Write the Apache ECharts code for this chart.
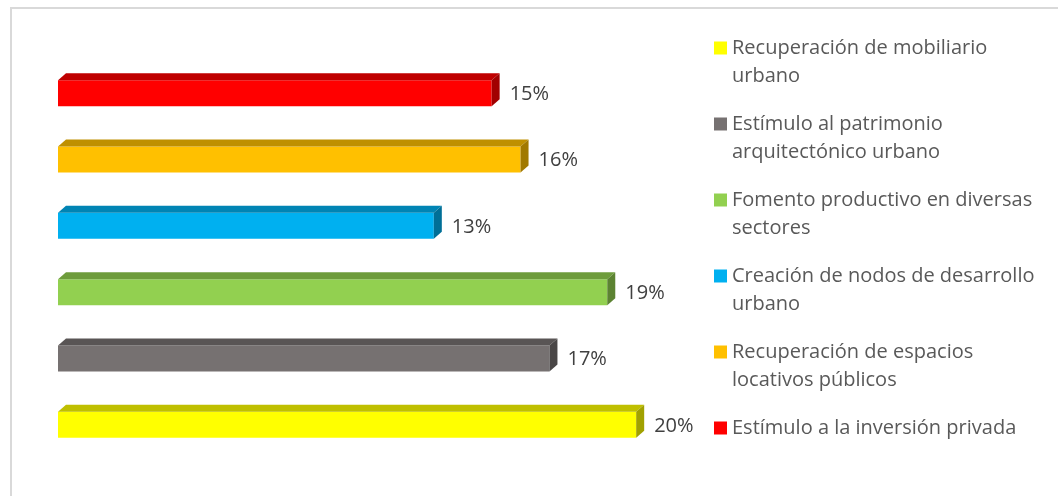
<!DOCTYPE html>
<html>
<head>
<meta charset="utf-8">
<title>Componentes</title>
<script src="https://cdn.jsdelivr.net/npm/echarts@6/dist/echarts.min.js"></script>
<style>
  html, body { margin: 0; padding: 0; background: #fff; }
  body { position: relative; width: 1058px; height: 496px; overflow: hidden; }
  #frame { position: absolute; left: 10px; top: 7px; width: 1100px; height: 600px; border: 2px solid #d9d9d9; box-sizing: border-box; }
  #main { position: absolute; left: 0; top: 0; width: 1058px; height: 496px; }
</style>
</head>
<body>
<div id="frame"></div>
<div id="main"></div>
<script>
// categorias, de abajo hacia arriba
const categories = [
  'Recuperación de mobiliario urbano',
  'Estímulo al patrimonio arquitectónico urbano',
  'Fomento productivo en diversas sectores',
  'Creación de nodos de desarrollo urbano',
  'Recuperación de espacios locativos públicos',
  'Estímulo a la inversión privada'
];
// texto de la leyenda con sus saltos de linea
const legendLabels = [
  'Recuperación de mobiliario\nurbano',
  'Estímulo al patrimonio\narquitectónico urbano',
  'Fomento productivo en diversas\nsectores',
  'Creación de nodos de desarrollo\nurbano',
  'Recuperación de espacios\nlocativos públicos',
  'Estímulo a la inversión privada\n'
];
const values = [20, 17, 19, 13, 16, 15];
const colors = ['#FFFF00', '#767171', '#92D050', '#00B0F0', '#FFC000', '#FF0000'];

/**
 * oscurece un color multiplicando sus canales
 */
function shade(color, factor) {
  const c = echarts.color.parse(color);
  return 'rgb(' + Math.round(c[0] * factor) + ',' + Math.round(c[1] * factor) + ',' + Math.round(c[2] * factor) + ')';
}

/**
 * barra con efecto 3D: cara frontal, cara superior y lateral
 */
function render3dBar(params, api) {
  const val = api.value(0);
  const idx = api.value(1);
  const start = api.coord([0, idx]);
  const end = api.coord([val, idx]);
  const h = 26, dx = 8, dy = 7;
  const x0 = start[0], x1 = end[0];
  const y0 = start[1] - h / 2, y1 = start[1] + h / 2;
  const c = api.visual('color');
  return {
    type: 'group',
    children: [
      {type: 'rect', shape: {x: x0, y: y0, width: x1 - x0, height: h}, style: {fill: c}},
      {type: 'polygon', shape: {points: [[x0, y0], [x0 + dx, y0 - dy], [x1 + dx, y0 - dy], [x1, y0]]},
        style: {fill: shade(c, 0.75)}},
      {type: 'polygon', shape: {points: [[x1, y0], [x1 + dx, y0 - dy], [x1 + dx, y1 - dy], [x1, y1]]},
        style: {fill: shade(c, 0.63)}},
      {type: 'text', x: x1 + 18, y: start[1] + 1,
        style: {text: val + '%', fill: '#404040', font: '20px "Open Sans"', verticalAlign: 'middle'}}
    ]
  };
}

const series = categories.map((name, i) => ({
  name: name,
  type: 'custom',
  renderItem: render3dBar,
  itemStyle: {color: colors[i]},
  encode: {x: 0, y: 1},
  data: [[values[i], i]]
}));

const chart = echarts.init(document.getElementById('main'), null, {renderer: 'canvas'});
chart.setOption({
  animation: false,
  grid: {left: 58, top: 60, width: 636, height: 398},
  xAxis: {type: 'value', min: 0, max: 22, show: false},
  yAxis: {type: 'category', data: categories, show: false},
  legend: {
    orient: 'vertical',
    left: 714,
    top: 34,
    padding: 0,
    itemGap: 20,
    itemWidth: 13,
    itemHeight: 41,
    icon: 'path://M0,0H13V13H0Z M0,41L0,41',
    selectedMode: false,
    itemStyle: {borderWidth: 0},
    textStyle: {fontFamily: 'Open Sans', fontSize: 20, color: '#595959', lineHeight: 28},
    formatter: (name) => legendLabels[categories.indexOf(name)],
    data: categories
  },
  series: series
});
</script>
</body>
</html>
